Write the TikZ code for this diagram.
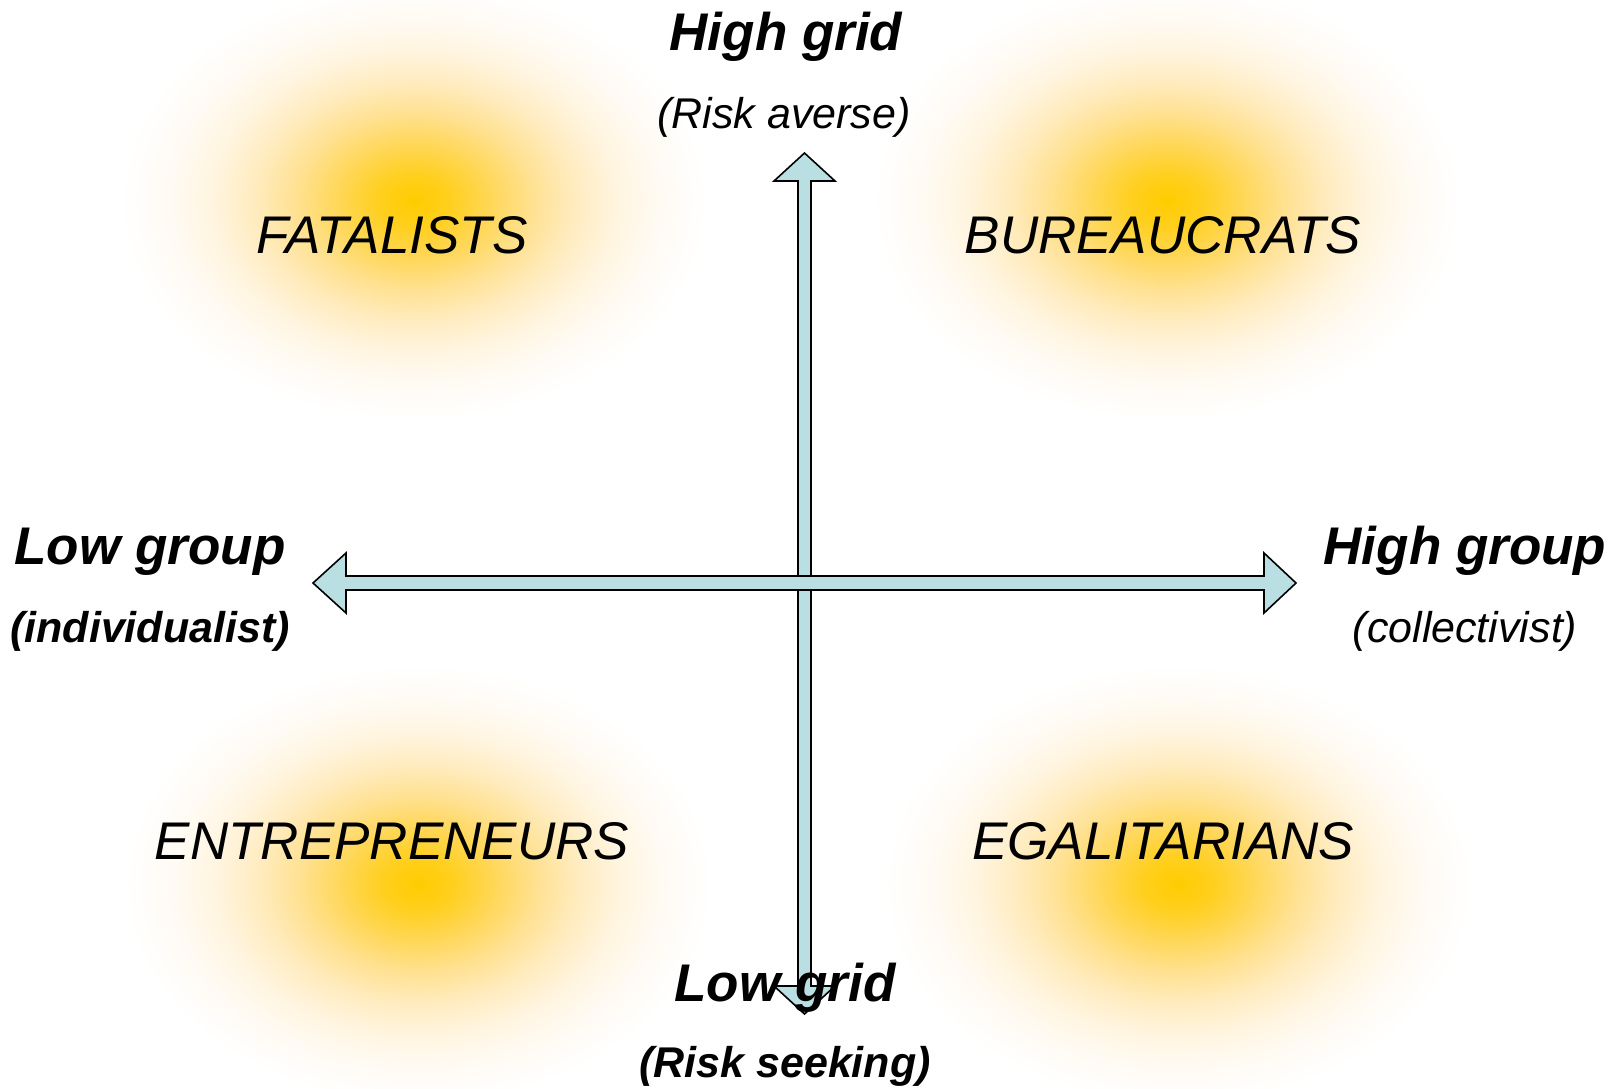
\documentclass[tikz,border=0pt]{standalone}
\usepackage{fontspec}
\setmainfont{Liberation Sans}
\definecolor{arrowfill}{RGB}{186,223,226}
\definecolor{bA}{RGB}{255,204,0}
\definecolor{bB}{RGB}{255,207,30}
\definecolor{bC}{RGB}{255,215,88}
\definecolor{bD}{RGB}{255,225,145}
\definecolor{bE}{RGB}{255,235,190}
\definecolor{bF}{RGB}{255,244,222}
\definecolor{bG}{RGB}{255,250,242}
\definecolor{bH}{RGB}{255,253,250}
\pgfdeclareradialshading{blob}{\pgfpoint{0bp}{0bp}}{color(0bp)=(bA); color(3bp)=(bB); color(6.5bp)=(bC); color(10bp)=(bD); color(13.5bp)=(bE); color(17bp)=(bF); color(20.5bp)=(bG); color(23bp)=(bH); color(25bp)=(white); color(50bp)=(white)}
\begin{document}
\begin{tikzpicture}[x=1pt,y=-1pt,
  blobshape/.style={shading=blob},
  blockarrow/.style={draw=black, line width=1.6pt, fill=arrowfill, line join=miter},
  bigitalic/.style={anchor=base, inner sep=0pt, font=\fontsize{53}{60}\selectfont\itshape},
  bigbold/.style={anchor=base, inner sep=0pt, font=\fontsize{53}{60}\selectfont\bfseries\itshape},
  smallitalic/.style={anchor=base, inner sep=0pt, font=\fontsize{43}{50}\selectfont\itshape},
  smallbold/.style={anchor=base, inner sep=0pt, font=\fontsize{43}{50}\selectfont\bfseries\itshape}]
\useasboundingbox (0,0) rectangle (1619,1088);
\fill[white] (0,0) rectangle (1619,1088);
% blobs
\shade[blobshape] (414,201) ellipse [x radius=295, y radius=220];
\shade[blobshape] (1167,201) ellipse [x radius=295, y radius=220];
\shade[blobshape] (418,884) ellipse [x radius=295, y radius=220];
\shade[blobshape] (1178,884) ellipse [x radius=295, y radius=220];
% vertical double arrow
\coordinate (vtop) at (804.5,153);
\coordinate (vbot) at (804.5,1014);
\draw[blockarrow] (vtop) -- (835,181) -- (811,181) -- (811,986) -- (835,986) -- (vbot) -- (774,986) -- (798,986) -- (798,181) -- (774,181) -- cycle;
% horizontal double arrow
\coordinate (hleft) at (313,583);
\coordinate (hright) at (1296,583);
\draw[blockarrow] (hleft) -- (346,553) -- (346,576) -- (1264,576) -- (1264,553) -- (hright) -- (1264,613) -- (1264,590) -- (346,590) -- (346,613) -- cycle;
% labels
\node[bigbold] (hg) at (786,50) {High grid};
\node[smallitalic] (ra) at (784,128) {(Risk averse)};
\node[bigbold] (lg) at (785,1001) {Low grid};
\node[smallbold] (rs) at (785,1077) {(Risk seeking)};
\node[bigbold] (lgr) at (150,564) {Low group};
\node[smallbold] (ind) at (150,642) {(individualist)};
\node[bigbold] (hgr) at (1465,564) {High group};
\node[smallitalic] (col) at (1465,642) {(collectivist)};
\node[bigitalic] (fat) at (392,253) {FATALISTS};
\node[bigitalic] (bur) at (1163,253) {BUREAUCRATS};
\node[bigitalic] (ent) at (392,859) {ENTREPRENEURS};
\node[bigitalic] (ega) at (1163,859) {EGALITARIANS};
\end{tikzpicture}
\end{document}
